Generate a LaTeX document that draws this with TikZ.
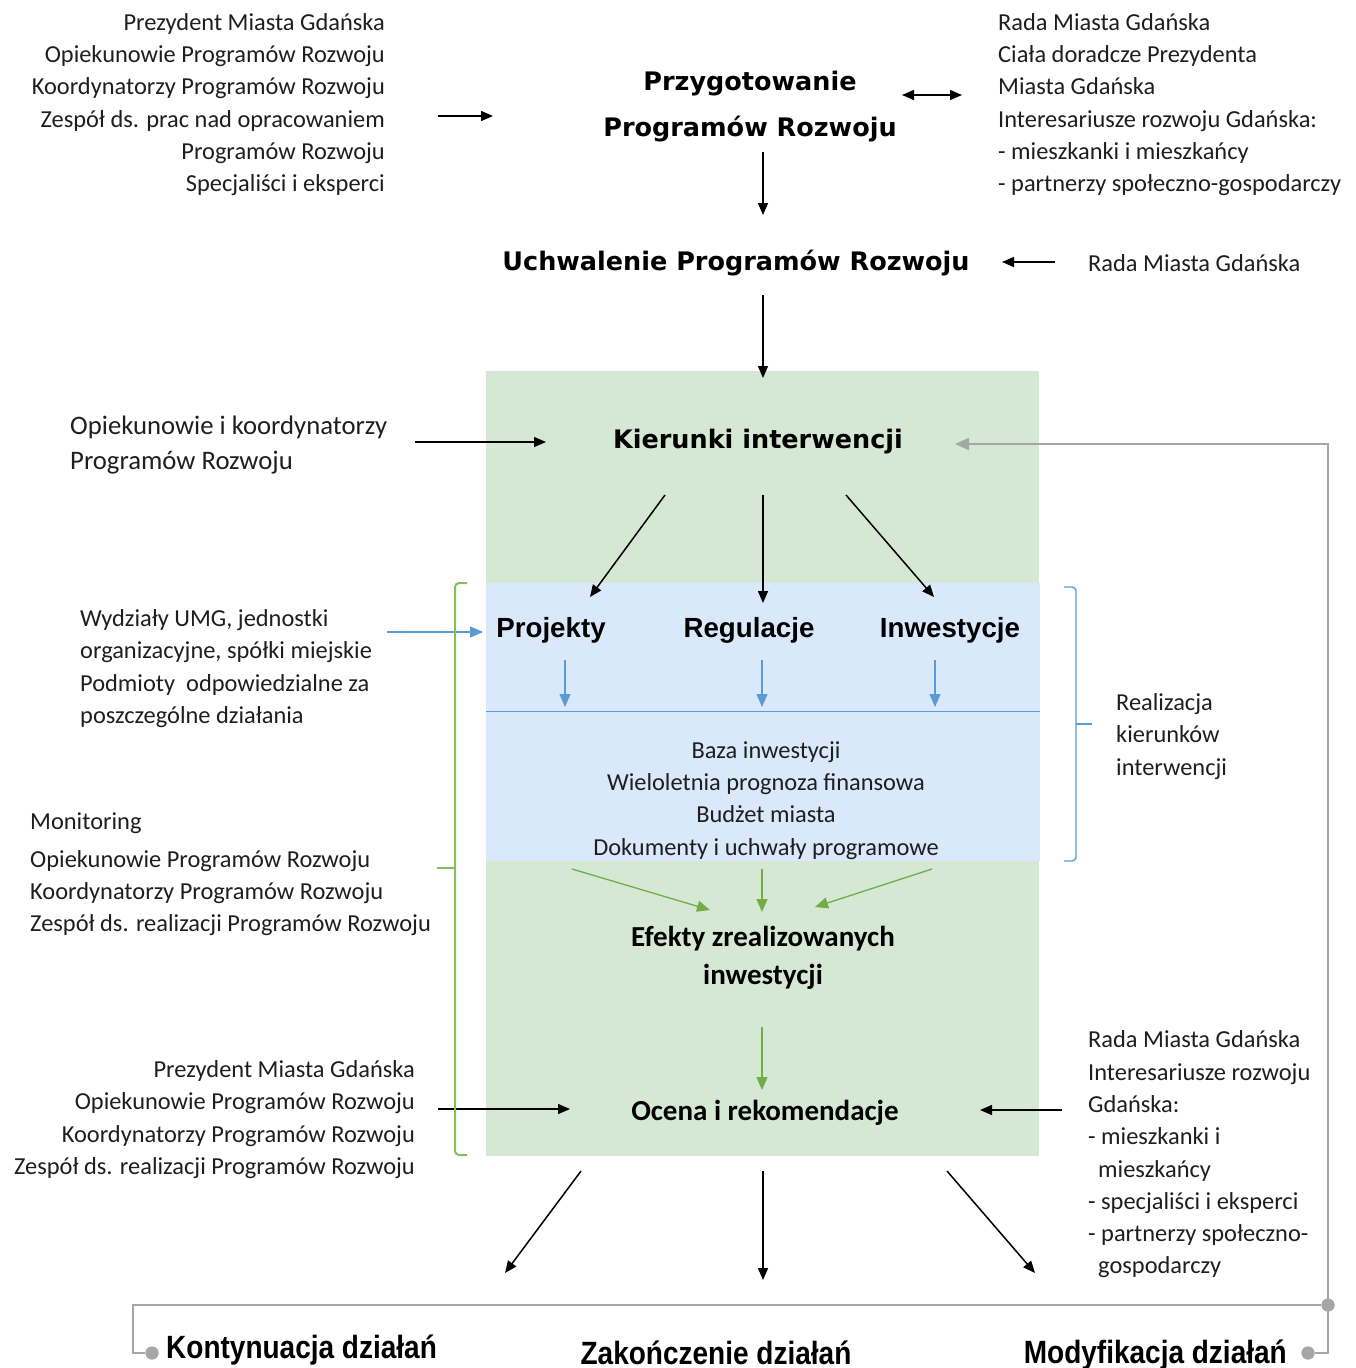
\documentclass[tikz,border=0pt]{standalone}
\usepackage{fontspec}
\setmainfont{Carlito}
\newfontfamily\verdfont{DejaVu Sans}
\newfontfamily\arialfont{Liberation Sans}
\usetikzlibrary{arrows.meta}
\definecolor{boxgreen}{HTML}{D5E8D4}
\definecolor{boxblue}{HTML}{DAE8FC}
\definecolor{lineblue}{HTML}{5B9BD5}
\definecolor{linegreen}{HTML}{70AD47}
\definecolor{bracegreen}{HTML}{86BD5F}
\definecolor{loopgray}{HTML}{A6A6A6}
\definecolor{txtcol}{HTML}{1E1E1E}

\begin{document}
\begin{tikzpicture}[x=1pt,y=-1pt,
	people/.style={inner sep=0pt, text=txtcol, font=\fontsize{24.4}{32.3}\selectfont},
	stage/.style={inner sep=0pt, align=center, font=\verdfont\bfseries\fontsize{25.5}{46}\selectfont},
	result/.style={inner sep=0pt, align=center, font=\bfseries\fontsize{29}{38}\selectfont},
	kind/.style={inner sep=0pt, font=\arialfont\bfseries\fontsize{27.7}{32}\selectfont},
	decision/.style={inner sep=0pt, font=\arialfont\bfseries\fontsize{28}{32}\selectfont},
	arr/.style={-{Triangle[length=12pt,width=10pt]}, line width=1.5pt},
	barr/.style={-{Triangle[length=13pt,width=11pt]}, line width=1.3pt, lineblue},
	garr/.style={-{Triangle[length=13pt,width=11pt]}, line width=1.3pt, linegreen},
	loop/.style={line width=2pt, loopgray},
	dot/.style={circle, fill=loopgray, inner sep=0pt, minimum size=13pt}]
\useasboundingbox (0,0) rectangle (1356,1368);

% tla
\fill[boxgreen] (486,371) rectangle (1039,1156);
\fill[boxblue] (486,583) rectangle (1040,861);
\draw[lineblue, line width=1pt] (486,711) -- (1040,711);

% etapy
\node[stage] (przyg) at (750,107) {Przygotowanie\\Programów Rozwoju};
\node[stage] (uchw) at (736,263) {Uchwalenie Programów Rozwoju};
\node[stage] (kier) at (758,442) {Kierunki interwencji};
\node[kind] (proj) at (551,630) {Projekty};
\node[kind] (regu) at (749,630) {Regulacje};
\node[kind] (inwe) at (950,630) {Inwestycje};
\node[people, align=center] (baza) at (766,800.5) {Baza inwestycji\\Wieloletnia prognoza finansowa\\Budżet miasta\\Dokumenty i uchwały programowe};
\node[result] (efekt) at (763,958) {Efekty zrealizowanych\\inwestycji};
\node[result] (ocena) at (765,1113) {Ocena i rekomendacje};

% uczestnicy
\node[people, anchor=east, align=right] (przygL) at (385,104.5) {Prezydent Miasta Gdańska\\Opiekunowie Programów Rozwoju\\Koordynatorzy Programów Rozwoju\\Zespół ds. prac nad opracowaniem\\Programów Rozwoju\\Specjaliści i eksperci};
\node[people, anchor=west, align=left] (przygR) at (998,104.5) {Rada Miasta Gdańska\\Ciała doradcze Prezydenta\\Miasta Gdańska\\Interesariusze rozwoju Gdańska:\\- mieszkanki i mieszkańcy\\- partnerzy społeczno-gospodarczy};
\node[people, anchor=west] (uchwR) at (1088,263) {Rada Miasta Gdańska};
\node[people, anchor=west, align=left, font=\fontsize{26.7}{35}\selectfont] (kierL) at (70,445.5) {Opiekunowie i koordynatorzy\\Programów Rozwoju};
\node[people, anchor=west, align=left] (wydzL) at (80,668.5) {Wydziały UMG, jednostki\\organizacyjne, spółki miejskie\\Podmioty\ \ odpowiedzialne za\\poszczególne działania};
\node[people, anchor=west, align=left] (real) at (1116,736.5) {Realizacja\\kierunków\\interwencji};
\node[people, anchor=west, align=left] (monit) at (30,874) {Monitoring\\[5.7pt]Opiekunowie Programów Rozwoju\\Koordynatorzy Programów Rozwoju\\Zespół ds. realizacji Programów Rozwoju};
\node[people, anchor=east, align=right] (ocenaL) at (415,1119.5) {Prezydent Miasta Gdańska\\Opiekunowie Programów Rozwoju\\Koordynatorzy Programów Rozwoju\\Zespół ds. realizacji Programów Rozwoju};
\node[people, anchor=west, align=left] (ocenaR) at (1088,1154.5) {Rada Miasta Gdańska\\Interesariusze rozwoju\\Gdańska:\\- mieszkanki i\\\hspace*{10pt}mieszkańcy\\- specjaliści i eksperci\\- partnerzy społeczno-\\\hspace*{10pt}gospodarczy};

% decyzje
\node[decision, anchor=west] (kont) at (166,1350) {\scalebox{1}[1.15]{Kontynuacja działań}};
\node[decision] (zakon) at (716,1353) {\scalebox{1}[1.15]{Zakończenie działań}};
\node[decision, anchor=east] (modyf) at (1287,1355) {\scalebox{1}[1.15]{Modyfikacja działań}};

% strzalki
\draw[arr] ([shift={(53,11.5)}]przygL.east) -- ([shift={(-257,9)}]przyg.center);
\draw[arr, {Triangle[length=12pt,width=10pt]}-{Triangle[length=12pt,width=10pt]}] ([shift={(152,-12)}]przyg.center) -- ([shift={(-36,-9.5)}]przygR.west);
\draw[arr] ([shift={(13,45)}]przyg.center) -- ([shift={(27,-48)}]uchw.center);
\draw[arr] ([shift={(-33,-1)}]uchwR.west) -- ([shift={(266,-1)}]uchw.center);
\draw[arr] ([shift={(27,32)}]uchw.center) -- ([shift={(5,-64)}]kier.center);
\draw[arr] ([shift={(345,-3.5)}]kierL.west) -- ([shift={(-212,0)}]kier.center);
\draw[arr] ([shift={(-93,53)}]kier.center) -- ([shift={(39,-33)}]proj.center);
\draw[arr] ([shift={(5,53)}]kier.center) -- ([shift={(14,-27)}]regu.center);
\draw[arr] ([shift={(88,53)}]kier.center) -- ([shift={(-16,-33)}]inwe.center);

\draw[barr] ([shift={(307,-36.5)}]wydzL.west) -- ([shift={(-68,2)}]proj.center);
\draw[barr] ([shift={(14,30)}]proj.center) -- ([shift={(14,77)}]proj.center);
\draw[barr] ([shift={(13,30)}]regu.center) -- ([shift={(13,77)}]regu.center);
\draw[barr] ([shift={(-15,30)}]inwe.center) -- ([shift={(-15,77)}]inwe.center);

\draw[garr] ([shift={(-194,68.5)}]baza.center) -- ([shift={(-53,-48)}]efekt.center);
\draw[garr] ([shift={(-4,68.5)}]baza.center) -- ([shift={(-1,-46)}]efekt.center);
\draw[garr] ([shift={(166,68.5)}]baza.center) -- ([shift={(52,-51)}]efekt.center);
\draw[garr] ([shift={(-1,69)}]efekt.center) -- ([shift={(-3,-23)}]ocena.center);

\draw[arr] ([shift={(23,-10.5)}]ocenaL.east) -- ([shift={(-195,-4)}]ocena.center);
\draw[arr] ([shift={(-26,-44.5)}]ocenaR.west) -- ([shift={(215,-3)}]ocena.center);
\draw[arr] ([shift={(-184,58)}]ocena.center) -- ([shift={(-211,-80)}]zakon.center);
\draw[arr] ([shift={(-2,58)}]ocena.center) -- ([shift={(47,-73)}]zakon.center);
\draw[arr] ([shift={(182,58)}]ocena.center) -- ([shift={(-252,-82)}]modyf.east);

% nawiasy
\draw[lineblue, line width=1.4pt, rounded corners=4pt] (1064,587) -- (1076,587) -- (1076,861) -- (1064,861);
\draw[lineblue, line width=1.4pt] (1076,724) -- (1092,724);
\draw[bracegreen, line width=2pt, rounded corners=4pt] (467,583) -- (455,583) -- (455,1155) -- (467,1155);
\draw[bracegreen, line width=2pt] (455,868) -- (437,868);

% petla zwrotna
\node[dot] (dotK) at (152,1353) {};
\node[dot] (dotM) at (1308,1353) {};
\node[dot] (dotJ) at (1328,1305) {};
\draw[loop, -{Triangle[length=14pt,width=12pt]}, shorten >=52pt] (dotM) -- ++(20,0) |- ([yshift=-2pt]kier.east);
\draw[loop] (dotJ) -| (133,1353) -- (dotK);
\node[dot] at (dotK) {};
\node[dot] at (dotM) {};
\node[dot] at (dotJ) {};
\end{tikzpicture}
\end{document}
